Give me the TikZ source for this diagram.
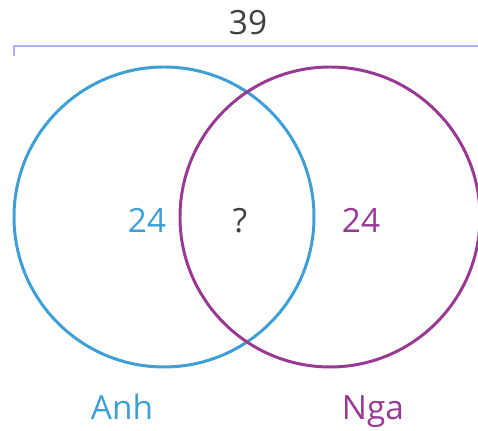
\documentclass[tikz,border=0pt]{standalone}
\usepackage{fontspec}
\setmainfont{Open Sans}
\usepackage{xcolor}
\definecolor{anhBlue}{HTML}{3E9FD6}
\definecolor{ngaPurple}{HTML}{983A94}
\definecolor{totalLine}{HTML}{AEAEFA}
\definecolor{darkText}{HTML}{404040}
\usepackage{tikz}

\begin{document}
\begin{tikzpicture}[x=0.02cm, y=-0.02cm, font=\fontsize{19}{22}\selectfont]
  \useasboundingbox (0,0) rectangle (478,431);
  % ---- total bracket ----
  \draw[totalLine, line width=1.6pt] (14,56) -- (14,46) -- (480,46);
  \node[darkText, anchor=base] (total) at (248,35) {39};
  % ---- circles ----
  \draw[anhBlue, line width=1.7pt] (164,217) circle (150);
  \draw[ngaPurple, line width=1.7pt] (330,217) circle (150);
  % ---- counts ----
  \node[anhBlue, anchor=base] (onlyAnh) at (147,233) {24};
  \node[darkText, anchor=base] (both) at (240,233) {?};
  \node[ngaPurple, anchor=base] (onlyNga) at (361,233) {24};
  % ---- names ----
  \node[anhBlue, anchor=base] (anh) at (122,420) {Anh};
  \node[ngaPurple, anchor=base] (nga) at (373,420) {Nga};
\end{tikzpicture}
\end{document}
